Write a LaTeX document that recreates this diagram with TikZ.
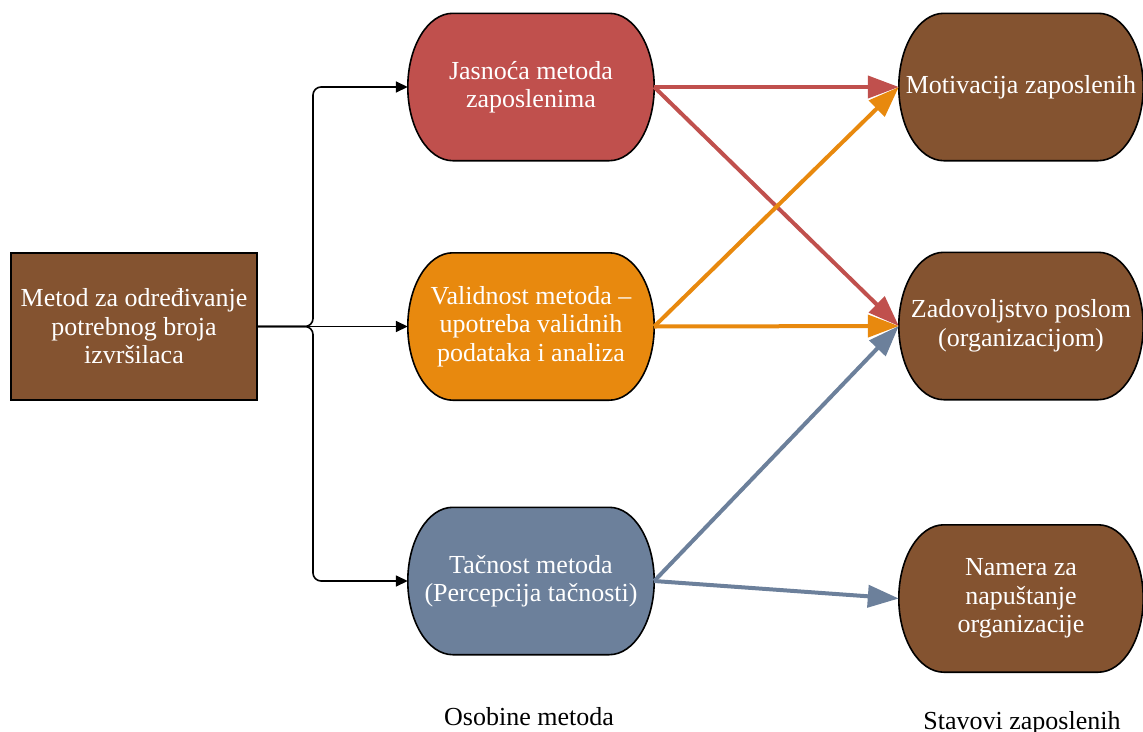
\documentclass[tikz,border=0pt]{standalone}
\usepackage{fontspec}
\setmainfont{Liberation Serif}
\usetikzlibrary{arrows.meta,calc,backgrounds}

\definecolor{brownfill}{RGB}{132,83,48}
\definecolor{redfill}{RGB}{192,80,77}
\definecolor{orangefill}{RGB}{232,137,14}
\definecolor{bluefill}{RGB}{108,128,155}

% rounded "pill" outline with elliptical ends drawn behind node #1
\newcommand\pillshape[2]{%
  \begin{scope}[on background layer]
    \filldraw[fill=#2, draw=black, line width=1.6]
      ($(#1.north west)+(45,0)$) -- ($(#1.north east)+(-45,0)$)
      .. controls ($(#1.north east)+(-20.1,0)$) and ($(#1.east)+(0,-40.6)$) .. (#1.east)
      .. controls ($(#1.east)+(0,40.6)$) and ($(#1.south east)+(-20.1,0)$) .. ($(#1.south east)+(-45,0)$)
      -- ($(#1.south west)+(45,0)$)
      .. controls ($(#1.south west)+(20.1,0)$) and ($(#1.west)+(0,40.6)$) .. (#1.west)
      .. controls ($(#1.west)+(0,-40.6)$) and ($(#1.north west)+(20.1,0)$) .. cycle;
  \end{scope}}

\begin{document}
\begin{tikzpicture}[x=1pt,y=-1pt,
  boxtext/.style={text=white, align=center, inner sep=0pt,
    font=\fontsize{26}{28.5}\selectfont},
  midnode/.style={boxtext, minimum width=246, minimum height=147},
  rightnode/.style={boxtext, minimum width=244, minimum height=147},
  feed/.style={draw=black, line width=1.6, rounded corners=8,
    -{Triangle[length=12,width=11]}},
  link/.style={line width=4, -{Triangle[length=31,width=22]}},
  caption/.style={anchor=base, inner sep=0pt, font=\fontsize{26}{28}\selectfont}]
\useasboundingbox (0,0) rectangle (1143,731);

% source box
\node[boxtext, draw=black, line width=2, fill=brownfill,
  minimum width=246, minimum height=147] (src) at (134,326.5)
  {Metod za određivanje\\potrebnog broja\\izvršilaca};

% method properties
\node[midnode] (jas) at (531,87) {Jasnoća metoda\\zaposlenima};
\node[midnode] (val) at (531,326.5) {Validnost metoda –\\upotreba validnih\\podataka i analiza};
\node[midnode] (tac) at (531,581) {Tačnost metoda\\(Percepcija tačnosti)};
\pillshape{jas}{redfill}
\pillshape{val}{orangefill}
\pillshape{tac}{bluefill}

% employee attitudes
\node[rightnode] (mot) at (1021,87) {Motivacija zaposlenih};
\node[rightnode] (zad) at (1021,326) {Zadovoljstvo poslom\\(organizacijom)};
\node[rightnode] (nam) at (1021,598.5) {Namera za\\napuštanje\\organizacije};
\pillshape{mot}{brownfill}
\pillshape{zad}{brownfill}
\pillshape{nam}{brownfill}

% branching feed from the source box
\coordinate (fork) at (313,326.5);
\draw[feed] (src.east) -- (fork) |- (jas.west);
\draw[feed] (src.east) -- (fork) |- (tac.west);
\draw[feed] (src.east) -- (val.west);

% effects
\draw[link, redfill] (jas.east) -- (mot.west);
\draw[link, redfill] (jas.east) -- (zad.west);
\draw[link, orangefill] (val.east) -- (mot.west);
\draw[link, orangefill] (val.east) -- (zad.west);
\draw[link, bluefill] (tac.east) -- (zad.west);
\draw[link, bluefill] (tac.east) -- (nam.west);

% column captions
\node[caption] (capm) at (529,725) {Osobine metoda};
\node[caption] (capr) at (1022,729) {Stavovi zaposlenih};
\end{tikzpicture}
\end{document}
